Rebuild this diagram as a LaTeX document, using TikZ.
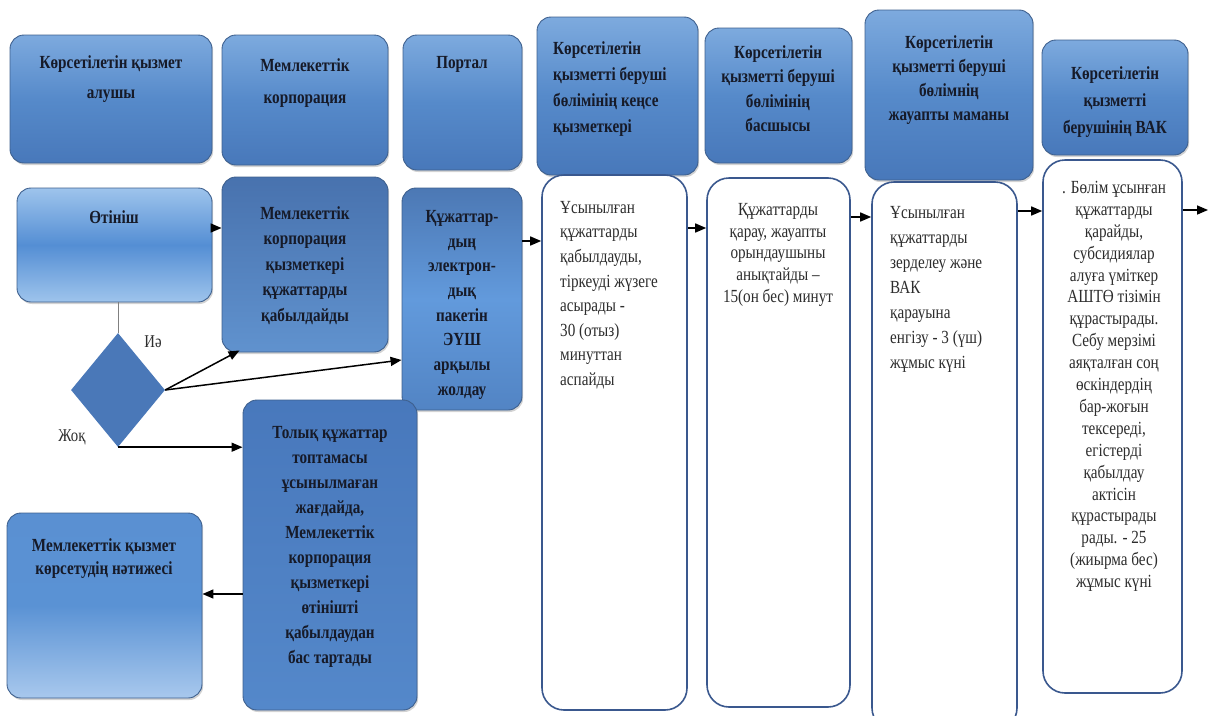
\documentclass[tikz,border=0pt]{standalone}
\usepackage{fontspec}
\setmainfont{Liberation Serif}[FakeStretch=0.82]
\usetikzlibrary{shapes.geometric,arrows.meta,shadows}
\definecolor{hT}{RGB}{125,170,222}
\definecolor{hM}{RGB}{86,138,202}
\definecolor{hB}{RGB}{72,120,186}
\definecolor{bordC}{RGB}{62,96,142}
\definecolor{otL}{RGB}{158,196,236}
\definecolor{otM}{RGB}{84,142,212}
\definecolor{mkT}{RGB}{72,114,174}
\definecolor{mkB}{RGB}{96,146,206}
\definecolor{pT}{RGB}{76,120,180}
\definecolor{pM}{RGB}{98,154,220}
\definecolor{pB}{RGB}{82,132,196}
\definecolor{diaC}{RGB}{74,120,184}
\definecolor{tolT}{RGB}{72,120,188}
\definecolor{tolB}{RGB}{84,136,202}
\definecolor{resT}{RGB}{90,144,210}
\definecolor{resM}{RGB}{90,146,212}
\definecolor{resB}{RGB}{168,200,237}
\definecolor{wC}{RGB}{58,88,142}
\definecolor{txtC}{RGB}{22,26,40}
\definecolor{wtxt}{RGB}{45,45,45}
\begin{document}
\begin{tikzpicture}[x=1pt,y=-1pt,
  box/.style={rectangle, rounded corners=14pt, draw=bordC, line width=0.9pt, inner sep=0pt,
    drop shadow={opacity=0.35, shadow xshift=1.2pt, shadow yshift=-2pt}},
  hdr/.style={box, top color=hT, bottom color=hB, middle color=hM},
  otbox/.style={box, top color=otL, bottom color=otL, middle color=otM},
  mkbox/.style={box, top color=mkT, bottom color=mkB},
  pbox/.style={box, top color=pT, bottom color=pB, middle color=pM},
  tolbox/.style={box, top color=tolT, bottom color=tolB},
  resbox/.style={box, top color=resT, bottom color=resB, middle color=resM},
  wbox/.style={rectangle, rounded corners=22pt, draw=wC, line width=1.6pt, fill=white, inner sep=0pt},
  htxt/.style={anchor=north, inner sep=0pt, align=center, text=txtC, font=\fontsize{18.5}{#1}\selectfont\bfseries},
  htxt/.default=26,
  wtx/.style={anchor=north, inner sep=0pt, align=center, text=wtxt, font=\fontsize{18.5}{#1}\selectfont},
  wtx/.default=24,
  lbl/.style={inner sep=0pt, text=wtxt, font=\fontsize{18}{20}\selectfont},
  arr/.style={-{Triangle[length=11pt,width=9pt]}, line width=1.5pt, black}
]
\useasboundingbox (0,0) rectangle (1209,715);

% header row
\node[hdr, minimum width=202, minimum height=128] (h1) at (111,99) {};
\node[hdr, minimum width=166, minimum height=130] (h2) at (305,100) {};
\node[hdr, minimum width=119, minimum height=135] (h3) at (462.5,102.5) {};
\node[hdr, minimum width=161, minimum height=158] (h4) at (617.5,96) {};
\node[hdr, minimum width=147, minimum height=135] (h5) at (778.5,95.5) {};
\node[hdr, minimum width=168, minimum height=170] (h6) at (949,95) {};
\node[hdr, minimum width=146, minimum height=115] (h7) at (1115,97.5) {};

\node[htxt=30] (t1) at (111,55) {Көрсетілетін қызмет\\алушы};
\node[htxt=32] (t2) at (305,58) {Мемлекеттік\\корпорация};
\node[htxt] (t3) at (462,56) {Портал};
\node[htxt=26, anchor=north west, align=left] (t4) at (553,41) {Көрсетілетін\\қызметті беруші\\бөлімінің кеңсе\\қызметкері};
\node[htxt=24.5] (t5) at (778,45) {Көрсетілетін\\қызметті беруші\\бөлімінің\\басшысы};
\node[htxt=24.3] (t6) at (949,35) {Көрсетілетін\\қызметті беруші\\бөлімнің\\жауапты маманы};
\node[htxt=27] (t7) at (1115,66) {Көрсетілетін\\қызметті\\берушінің ВАК};

% left column
\node[otbox, minimum width=195, minimum height=114] (ot) at (114.5,245) {};
\node[htxt] (tot) at (114,210) {Өтініш};
\node[mkbox, minimum width=166, minimum height=175] (mk) at (305,264.5) {};
\node[htxt=25.5] (tmk) at (305,206) {Мемлекеттік\\корпорация\\қызметкері\\құжаттарды\\қабылдайды};
\node[pbox, minimum width=120, minimum height=222] (port) at (462,299) {};
\node[htxt=24.7] (tport) at (462,210) {Құжаттар-\\дың\\электрон-\\дық\\пакетін\\ЭҮШ\\арқылы\\жолдау};
\node[diamond, aspect=0.82, minimum width=94, minimum height=114, inner sep=0pt, fill=diaC] (dia) at (118,390) {};
\node[tolbox, minimum width=174, minimum height=310] (tol) at (330,555) {};
\node[htxt=25] (ttol) at (330,426) {Толық құжаттар\\топтамасы\\ұсынылмаған\\жағдайда,\\Мемлекеттік\\корпорация\\қызметкері\\өтінішті\\қабылдаудан\\бас тартады};
\node[resbox, minimum width=195, minimum height=185] (res) at (104.5,605.5) {};
\node[htxt=23] (tres) at (104,538) {Мемлекеттік қызмет\\көрсетудің нәтижесі};

\node[lbl] (ie) at (153,342) {Иә};
\node[lbl] (jok) at (72,437) {Жоқ};

% white boxes
\node[wbox, minimum width=145, minimum height=535] (w1) at (614.5,442.5) {};
\node[wtx=24.6, anchor=north west, align=left] (tw1) at (560,201) {Ұсынылған\\құжаттарды\\қабылдауды,\\тіркеуді жүзеге\\асырады -\\30 (отыз)\\минуттан\\аспайды};
\node[wbox, minimum width=143, minimum height=529] (w2) at (778.5,442.5) {};
\node[wtx=21.8] (tw2) at (778,203) {Құжаттарды\\қарау, жауапты\\орындаушыны\\анықтайды –\\15(он бес) минут};
\node[wbox, minimum width=145, minimum height=548] (w3) at (944.5,456) {};
\node[wtx=25, anchor=north west, align=left] (tw3) at (890,206) {Ұсынылған\\құжаттарды\\зерделеу және\\ВАК\\қарауына\\енгізу - 3 (үш)\\жұмыс күні};
\node[wbox, minimum width=139, minimum height=533] (w4) at (1112.5,426.5) {};
\node[wtx=21.9] (tw4) at (1114,181) {. Бөлім ұсынған\\құжаттарды\\қарайды,\\субсидиялар\\алуға үміткер\\АШТӨ тізімін\\құрастырады.\\Себу мерзімі\\аяқталған соң\\өскіндердің\\бар-жоғын\\тексереді,\\егістерді\\қабылдау\\актісін\\құрастырады\\рады. - 25\\(жиырма бес)\\жұмыс күні};

% helper coordinates
\coordinate (y228) at (0,228);
\coordinate (y360) at (0,360);
\coordinate (y594) at (0,594);
\coordinate (y241) at (0,241);
\coordinate (y217) at (0,217);
\coordinate (y211) at (0,211);
\coordinate (endp) at (1208,210);

% connectors
\draw[arr] (ot.east |- y228) -- (mk.west |- y228);
\draw[gray, line width=0.9pt] (dia.north |- ot.south) -- (dia.north);
\draw[arr] (dia.east) -- ([xshift=18pt,yshift=2pt]mk.south west);
\draw[arr] (dia.east) -- (port.west |- y360);
\draw[arr] (dia.south) -- (tol.west |- dia.south);
\draw[arr] (tol.west |- y594) -- (res.east |- y594);
\draw[arr] (port.east |- y241) -- (w1.west |- y241);
\draw[arr] (w1.east |- y228) -- (w2.west |- y228);
\draw[arr] (w2.east |- y217) -- (w3.west |- y217);
\draw[arr] (w3.east |- y211) -- (w4.west |- y211);
\draw[arr] (w4.east |- endp) -- (endp);
\end{tikzpicture}
\end{document}
